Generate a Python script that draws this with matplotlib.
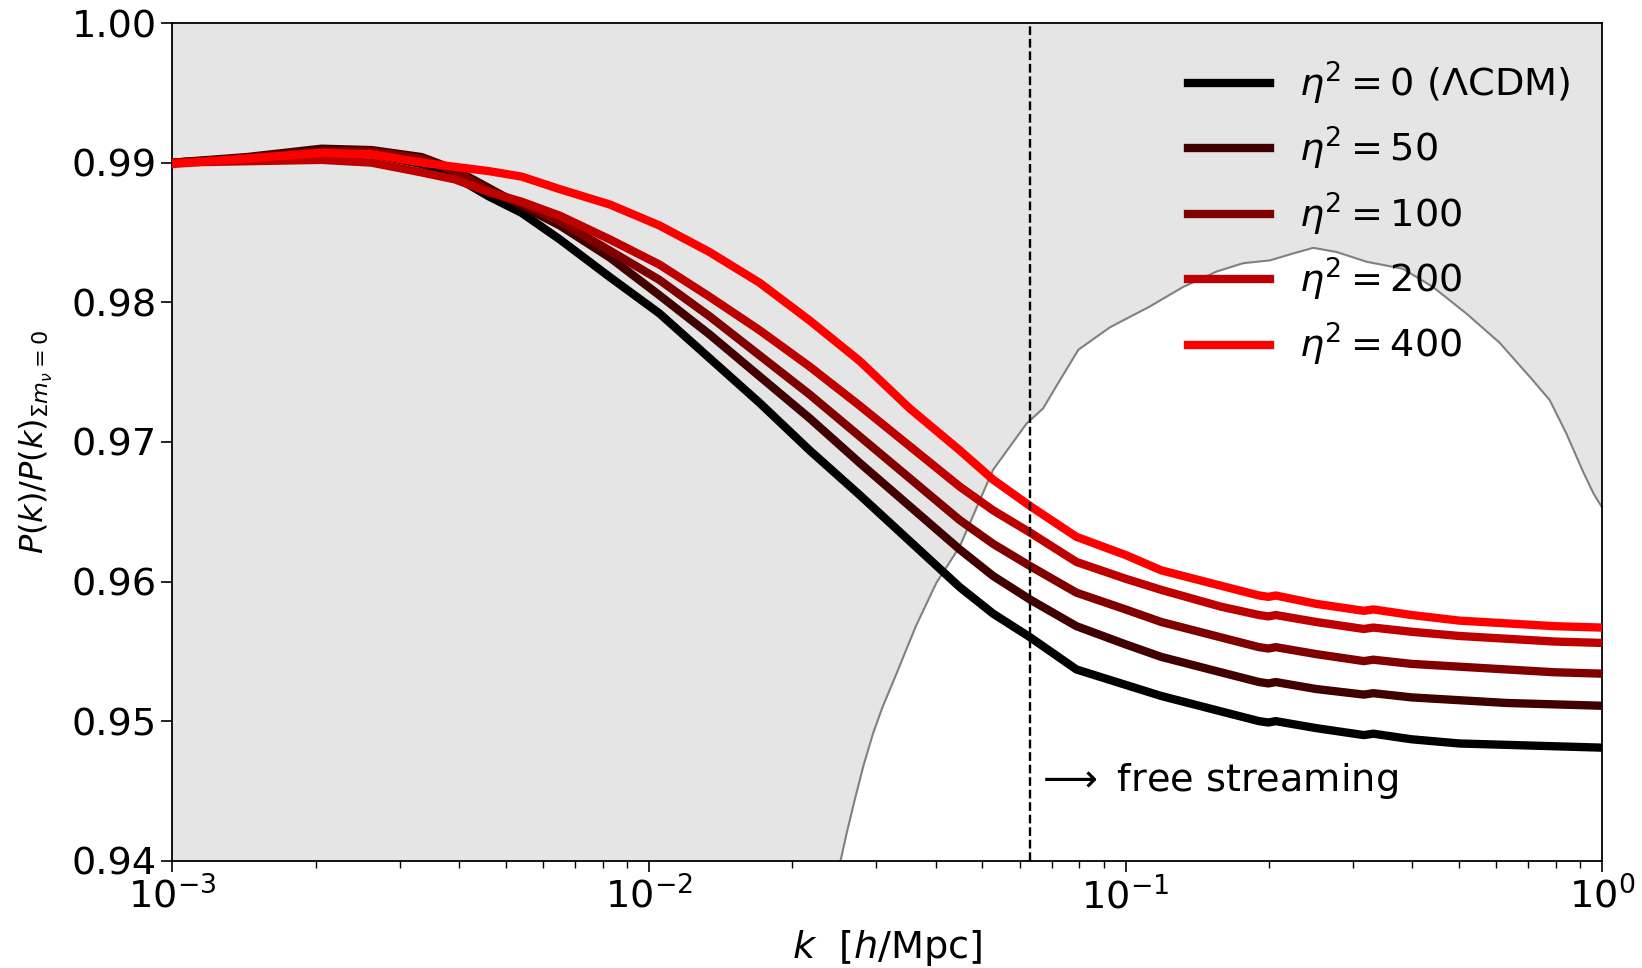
import numpy as np
import matplotlib.pyplot as plt

# log10(k) grid the curves were read on
logk = [-3.0, -2.844, -2.687, -2.582, -2.477, -2.407, -2.337, -2.267,
        -2.187, -2.082, -1.978, -1.873, -1.768, -1.663, -1.558, -1.453,
        -1.348, -1.278, -1.2, -1.103, -1.0, -0.925, -0.8, -0.72, -0.7,
        -0.685, -0.6, -0.5, -0.48, -0.4, -0.3, -0.2, -0.1, 0.0]

ratio_0 = [0.9900, 0.9903, 0.9908, 0.9906, 0.9899, 0.9890, 0.9876, 0.9864,
           0.9845, 0.9818, 0.9792, 0.9760, 0.9728, 0.9694, 0.9662, 0.9629,
           0.9596, 0.9577, 0.9560, 0.9537, 0.9526, 0.9518, 0.9507, 0.9500,
           0.9499, 0.9500, 0.9495, 0.9490, 0.9491, 0.9487, 0.9484, 0.9483,
           0.9482, 0.9481]
ratio_50 = [0.9900, 0.9904, 0.9910, 0.9909, 0.9904, 0.9895, 0.9882, 0.9869,
            0.9855, 0.9832, 0.9805, 0.9777, 0.9747, 0.9717, 0.9685, 0.9654,
            0.9623, 0.9604, 0.9587, 0.9568, 0.9555, 0.9546, 0.9535, 0.9528,
            0.9527, 0.9528, 0.9523, 0.9519, 0.9520, 0.9517, 0.9515, 0.9513,
            0.9512, 0.9511]
ratio_100 = [0.9900, 0.9903, 0.9908, 0.9908, 0.9903, 0.9894, 0.9880, 0.9871,
             0.9858, 0.9837, 0.9816, 0.9790, 0.9762, 0.9734, 0.9704, 0.9674,
             0.9644, 0.9627, 0.9611, 0.9592, 0.9580, 0.9571, 0.9560, 0.9553,
             0.9552, 0.9553, 0.9548, 0.9543, 0.9544, 0.9541, 0.9539, 0.9537,
             0.9535, 0.9534]
ratio_200 = [0.9900, 0.9901, 0.9902, 0.9900, 0.9893, 0.9888, 0.9879, 0.9872,
             0.9862, 0.9845, 0.9827, 0.9804, 0.9780, 0.9754, 0.9726, 0.9697,
             0.9668, 0.9651, 0.9635, 0.9614, 0.9602, 0.9594, 0.9582, 0.9576,
             0.9575, 0.9576, 0.9571, 0.9566, 0.9567, 0.9564, 0.9561, 0.9559,
             0.9557, 0.9556]
ratio_400 = [0.9899, 0.9903, 0.9907, 0.9906, 0.9900, 0.9897, 0.9894, 0.9890,
             0.9881, 0.9870, 0.9855, 0.9836, 0.9814, 0.9787, 0.9758, 0.9724,
             0.9694, 0.9673, 0.9654, 0.9632, 0.9619, 0.9608, 0.9597, 0.9590,
             0.9589, 0.9590, 0.9584, 0.9579, 0.9580, 0.9576, 0.9572, 0.9570,
             0.9568, 0.9567]

labels = [r'$\eta^2=0$ ($\Lambda$CDM)', r'$\eta^2=50$', r'$\eta^2=100$',
          r'$\eta^2=200$', r'$\eta^2=400$']
colors = ['#000000', '#400000', '#800000', '#bf0000', '#ff0000']

# survey window (gray outline), log10(k) and height on the ratio axis
win_logk = [-1.598, -1.585, -1.568, -1.550, -1.530, -1.510, -1.483, -1.440,
            -1.397, -1.348, -1.278, -1.208, -1.173, -1.138, -1.099, -1.033,
            -0.949, -0.879, -0.809, -0.753, -0.697, -0.648, -0.606, -0.557,
            -0.494, -0.418, -0.355, -0.285, -0.215, -0.145, -0.110, -0.075,
            -0.039, -0.018, 0.0]
win_val = [0.9400, 0.9420, 0.9444, 0.9468, 0.9491, 0.9510, 0.9532, 0.9568,
           0.9599, 0.9625, 0.9680, 0.9713, 0.9724, 0.9744, 0.9766, 0.9782,
           0.9797, 0.9811, 0.9822, 0.9828, 0.9830, 0.9835, 0.9839, 0.9836,
           0.9829, 0.9824, 0.9811, 0.9792, 0.9771, 0.9744, 0.9730, 0.9706,
           0.9678, 0.9663, 0.9653]

k_fs = 0.063  # free streaming scale

k = 10 ** np.array(logk)
kw = 10 ** np.array(win_logk)

fs = 27.5

fig = plt.figure(figsize=(16.42, 9.68), dpi=100)
ax = fig.add_axes([0.105, 0.1108, 0.8707, 0.8654])
ax.set_facecolor('#e5e5e5')

ax.fill_between(kw, 0.94, win_val, color='white', zorder=1)
ax.plot(kw, win_val, color='gray', lw=1.5, zorder=2)

for r, c, lab in zip([ratio_0, ratio_50, ratio_100, ratio_200, ratio_400], colors, labels):
    ax.plot(k, r, color=c, lw=6, label=lab, zorder=3)

ax.axvline(k_fs, color='k', ls='--', lw=1.7, zorder=4)
ax.text(k_fs * 1.025, 0.9457, r'$\longrightarrow$ free streaming', fontsize=fs,
        va='center', ha='left')

ax.set_xscale('log')
ax.set_xlim(1e-3, 1)
ax.set_ylim(0.94, 1.0)
ax.set_yticks([0.94, 0.95, 0.96, 0.97, 0.98, 0.99, 1.00])
ax.set_yticklabels(['0.94', '0.95', '0.96', '0.97', '0.98', '0.99', '1.00'])
ax.tick_params(axis='both', which='major', labelsize=fs, length=8, width=1.2)
ax.tick_params(axis='both', which='minor', length=5, width=1.0)
for s in ax.spines.values():
    s.set_linewidth(1.3)

ax.set_xlabel(r'$k$  [$h$/Mpc]', fontsize=fs, labelpad=8)
ax.set_ylabel(r'$P(k)/P(k)_{\Sigma m_\nu=0}$', fontsize=23, labelpad=12)

ax.legend(loc='upper right', bbox_to_anchor=(1.0044, 1.002), frameon=False,
          fontsize=fs, handlelength=2.15, handletextpad=0.75,
          labelspacing=0.48, borderaxespad=0.6)

fig.savefig('out.png', dpi=100)
